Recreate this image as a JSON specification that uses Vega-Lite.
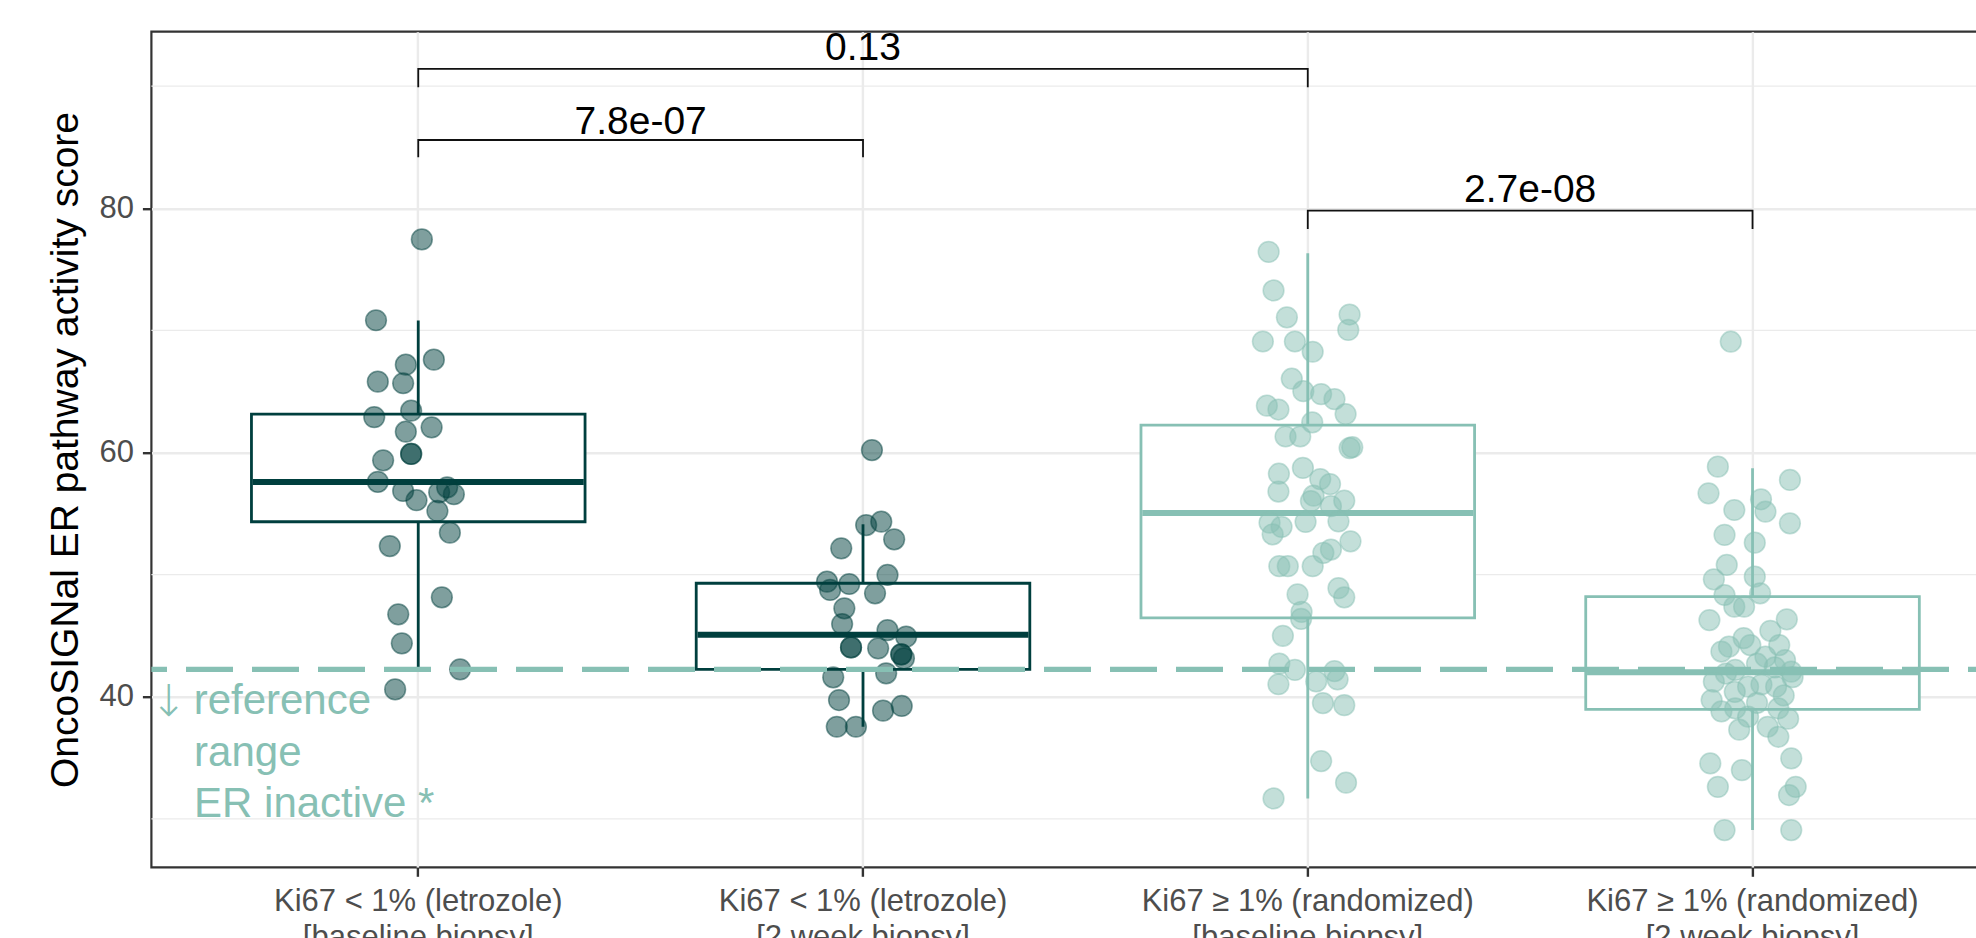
{
  "$schema": "https://vega.github.io/schema/vega-lite/v6.json",
  "autosize": {"type": "none"},
  "width": 1868,
  "height": 835.6,
  "padding": {"left": 151.4, "top": 31.7, "right": 0, "bottom": 70.7},
  "background": "white",
  "datasets": {
    "pts": [
      {"g":"L0","score":77.45,"jit":0.008},{"g":"L0","score":70.83,"jit":-0.095},{"g":"L0","score":67.6,"jit":0.035},{"g":"L0","score":67.19,"jit":-0.028},{"g":"L0","score":65.8,"jit":-0.091},{"g":"L0","score":65.67,"jit":-0.034},{"g":"L0","score":63.42,"jit":-0.016},{"g":"L0","score":62.9,"jit":-0.099},{"g":"L0","score":62.06,"jit":0.03},{"g":"L0","score":61.7,"jit":-0.028},{"g":"L0","score":59.88,"jit":-0.016},{"g":"L0","score":59.88,"jit":-0.016},{"g":"L0","score":59.36,"jit":-0.079},{"g":"L0","score":57.6,"jit":-0.091},{"g":"L0","score":56.85,"jit":-0.034},{"g":"L0","score":56.09,"jit":-0.004},{"g":"L0","score":56.74,"jit":0.047},{"g":"L0","score":57.15,"jit":0.065},{"g":"L0","score":56.58,"jit":0.08},{"g":"L0","score":55.21,"jit":0.043},{"g":"L0","score":53.43,"jit":0.071},{"g":"L0","score":52.34,"jit":-0.064},{"g":"L0","score":48.14,"jit":0.053},{"g":"L0","score":46.75,"jit":-0.045},{"g":"L0","score":44.37,"jit":-0.037},{"g":"L0","score":42.24,"jit":0.094},{"g":"L0","score":40.6,"jit":-0.052},
      {"g":"L2","score":60.2,"jit":0.02},{"g":"L2","score":54.06,"jit":0.007},{"g":"L2","score":54.33,"jit":0.041},{"g":"L2","score":52.89,"jit":0.07},{"g":"L2","score":52.15,"jit":-0.049},{"g":"L2","score":49.97,"jit":0.055},{"g":"L2","score":49.42,"jit":-0.081},{"g":"L2","score":49.23,"jit":-0.031},{"g":"L2","score":48.47,"jit":0.027},{"g":"L2","score":48.74,"jit":-0.074},{"g":"L2","score":47.24,"jit":-0.042},{"g":"L2","score":45.95,"jit":-0.047},{"g":"L2","score":45.46,"jit":0.055},{"g":"L2","score":44.92,"jit":0.097},{"g":"L2","score":44.04,"jit":-0.027},{"g":"L2","score":44.04,"jit":-0.027},{"g":"L2","score":43.96,"jit":0.034},{"g":"L2","score":43.47,"jit":0.086},{"g":"L2","score":43.47,"jit":0.086},{"g":"L2","score":43.14,"jit":0.092},{"g":"L2","score":41.92,"jit":0.052},{"g":"L2","score":41.59,"jit":-0.067},{"g":"L2","score":39.73,"jit":-0.054},{"g":"L2","score":38.86,"jit":0.045},{"g":"L2","score":39.24,"jit":0.087},{"g":"L2","score":37.54,"jit":-0.059},{"g":"L2","score":37.54,"jit":-0.016},
      {"g":"R0","score":76.43,"jit":-0.088},{"g":"R0","score":73.27,"jit":-0.077},{"g":"R0","score":71.07,"jit":-0.047},{"g":"R0","score":71.3,"jit":0.094},{"g":"R0","score":70.04,"jit":0.091},{"g":"R0","score":69.09,"jit":-0.101},{"g":"R0","score":69.09,"jit":-0.029},{"g":"R0","score":68.25,"jit":0.011},{"g":"R0","score":66.04,"jit":-0.036},{"g":"R0","score":65.02,"jit":-0.01},{"g":"R0","score":64.78,"jit":0.03},{"g":"R0","score":64.37,"jit":0.06},{"g":"R0","score":63.83,"jit":-0.092},{"g":"R0","score":63.52,"jit":-0.066},{"g":"R0","score":63.15,"jit":0.085},{"g":"R0","score":62.47,"jit":0.01},{"g":"R0","score":61.31,"jit":-0.05},{"g":"R0","score":61.31,"jit":-0.017},{"g":"R0","score":60.36,"jit":0.094},{"g":"R0","score":60.43,"jit":0.1},{"g":"R0","score":58.26,"jit":-0.065},{"g":"R0","score":58.74,"jit":-0.011},{"g":"R0","score":57.82,"jit":0.028},{"g":"R0","score":57.41,"jit":0.05},{"g":"R0","score":56.8,"jit":-0.066},{"g":"R0","score":56.46,"jit":0.013},{"g":"R0","score":56.02,"jit":0.007},{"g":"R0","score":55.61,"jit":0.052},{"g":"R0","score":56.05,"jit":0.082},{"g":"R0","score":54.25,"jit":-0.086},{"g":"R0","score":53.91,"jit":-0.059},{"g":"R0","score":53.3,"jit":-0.079},{"g":"R0","score":54.32,"jit":-0.005},{"g":"R0","score":54.36,"jit":0.069},{"g":"R0","score":52.73,"jit":0.096},{"g":"R0","score":52.05,"jit":0.052},{"g":"R0","score":51.78,"jit":0.035},{"g":"R0","score":50.69,"jit":-0.064},{"g":"R0","score":50.69,"jit":-0.045},{"g":"R0","score":50.69,"jit":0.011},{"g":"R0","score":48.89,"jit":0.069},{"g":"R0","score":48.14,"jit":0.082},{"g":"R0","score":48.38,"jit":-0.023},{"g":"R0","score":46.95,"jit":-0.014},{"g":"R0","score":46.38,"jit":-0.015},{"g":"R0","score":44.99,"jit":-0.056},{"g":"R0","score":42.71,"jit":-0.064},{"g":"R0","score":42.2,"jit":-0.029},{"g":"R0","score":41.02,"jit":-0.066},{"g":"R0","score":42.1,"jit":0.06},{"g":"R0","score":41.42,"jit":0.067},{"g":"R0","score":41.25,"jit":0.019},{"g":"R0","score":39.48,"jit":0.034},{"g":"R0","score":39.31,"jit":0.082},{"g":"R0","score":34.73,"jit":0.03},{"g":"R0","score":32.96,"jit":0.086},{"g":"R0","score":31.67,"jit":-0.077},
      {"g":"R2","score":58.84,"jit":-0.078},{"g":"R2","score":57.75,"jit":0.084},{"g":"R2","score":56.66,"jit":-0.099},{"g":"R2","score":56.17,"jit":0.019},{"g":"R2","score":55.15,"jit":0.029},{"g":"R2","score":55.29,"jit":-0.041},{"g":"R2","score":54.2,"jit":0.084},{"g":"R2","score":53.25,"jit":-0.063},{"g":"R2","score":52.61,"jit":0.005},{"g":"R2","score":50.79,"jit":-0.058},{"g":"R2","score":49.61,"jit":-0.087},{"g":"R2","score":49.83,"jit":0.005},{"g":"R2","score":48.33,"jit":-0.063},{"g":"R2","score":48.47,"jit":0.017},{"g":"R2","score":47.37,"jit":-0.041},{"g":"R2","score":47.37,"jit":-0.019},{"g":"R2","score":46.28,"jit":-0.097},{"g":"R2","score":46.34,"jit":0.077},{"g":"R2","score":44.1,"jit":-0.053},{"g":"R2","score":44.23,"jit":-0.005},{"g":"R2","score":44.23,"jit":0.06},{"g":"R2","score":43.28,"jit":0.029},{"g":"R2","score":43.0,"jit":0.073},{"g":"R2","score":42.19,"jit":-0.039},{"g":"R2","score":42.05,"jit":0.087},{"g":"R2","score":41.23,"jit":-0.087},{"g":"R2","score":40.82,"jit":-0.01},{"g":"R2","score":40.82,"jit":0.053},{"g":"R2","score":39.73,"jit":-0.092},{"g":"R2","score":39.04,"jit":-0.039},{"g":"R2","score":39.04,"jit":0.058},{"g":"R2","score":38.36,"jit":-0.01},{"g":"R2","score":37.54,"jit":0.034},{"g":"R2","score":36.72,"jit":0.058},{"g":"R2","score":34.95,"jit":0.087},{"g":"R2","score":34.54,"jit":-0.095},{"g":"R2","score":33.99,"jit":-0.024},{"g":"R2","score":32.62,"jit":-0.078},{"g":"R2","score":32.62,"jit":0.097},{"g":"R2","score":31.95,"jit":0.082},{"g":"R2","score":29.08,"jit":-0.063},{"g":"R2","score":29.08,"jit":0.087},{"g":"R2","score":69.07,"jit":-0.049},
      {"g":"R2","score":45.4,"jit":0.04},{"g":"R2","score":44.8,"jit":-0.02},{"g":"R2","score":43.7,"jit":-0.07},{"g":"R2","score":42.7,"jit":0.01},{"g":"R2","score":42.4,"jit":0.05},{"g":"R2","score":41.9,"jit":-0.06},{"g":"R2","score":41.6,"jit":0.09},{"g":"R2","score":41.0,"jit":0.02},{"g":"R2","score":40.4,"jit":-0.04},{"g":"R2","score":40.1,"jit":0.07},{"g":"R2","score":39.5,"jit":0.01},{"g":"R2","score":38.8,"jit":-0.07},{"g":"R2","score":38.2,"jit":0.08},{"g":"R2","score":37.3,"jit":-0.03}
    ],
    "box": [
      {"g":"L0","lower":42.24,"q1":54.33,"median":57.58,"q3":63.15,"upper":70.8},
      {"g":"L2","lower":37.54,"q1":42.24,"median":45.08,"q3":49.29,"upper":54.12},
      {"g":"R0","lower":31.67,"q1":46.45,"median":55.04,"q3":62.24,"upper":76.32},
      {"g":"R2","lower":29.08,"q1":38.97,"median":42.0,"q3":48.19,"upper":58.71}
    ],
    "minor": [{"v":30},{"v":50},{"v":70},{"v":90}],
    "ref": [{"v":42.24}],
    "brk": [
      {"id":1,"ord":1,"g":"L0","y":84.18},{"id":1,"ord":2,"g":"L0","y":85.59},{"id":1,"ord":3,"g":"L2","y":85.59},{"id":1,"ord":4,"g":"L2","y":84.18},
      {"id":2,"ord":1,"g":"L0","y":89.91},{"id":2,"ord":2,"g":"L0","y":91.41},{"id":2,"ord":3,"g":"R0","y":91.41},{"id":2,"ord":4,"g":"R0","y":89.91},
      {"id":3,"ord":1,"g":"R0","y":78.3},{"id":3,"ord":2,"g":"R0","y":79.8},{"id":3,"ord":3,"g":"R2","y":79.8},{"id":3,"ord":4,"g":"R2","y":78.3}
    ],
    "brktext": [
      {"g":"L0","jit":0.5,"y":86.12,"label":"7.8e-07"},
      {"g":"L2","jit":0,"y":92.15,"label":"0.13"},
      {"g":"R0","jit":0.5,"y":80.54,"label":"2.7e-08"}
    ],
    "arrow": [
      {"g":"L0","jit":-0.602,"y":38.4,"t":"↓"}
    ],
    "ann": [
      {"g":"L0","jit":-0.505,"y":38.58,"t":"reference"},
      {"g":"L0","jit":-0.504,"y":34.35,"t":"range"},
      {"g":"L0","jit":-0.504,"y":30.17,"t":"ER inactive *"}
    ]
  },
  "layer": [
    {
      "data": {"name": "minor"},
      "mark": {"type": "rule", "color": "#EBEBEB", "strokeWidth": 1.2},
      "encoding": {
        "y": {"field": "v", "type": "quantitative", "scale": {"domain": [26.03, 94.46], "nice": false, "zero": false}, "axis": {"values": [40, 60, 80]}, "title": "OncoSIGNal ER pathway activity score"}
      }
    },
    {
      "data": {"name": "box"},
      "mark": {"type": "rule", "strokeWidth": 2.8},
      "encoding": {
        "x": {"field": "g", "type": "nominal", "scale": {"domain": ["L0","L2","R0","R2"], "paddingInner": 0, "paddingOuter": 0.1}, "title": null, "axis": {"labelExpr": "datum.value == 'L0' ? ['Ki67 < 1% (letrozole)', '[baseline biopsy]'] : datum.value == 'L2' ? ['Ki67 < 1% (letrozole)', '[2 week biopsy]'] : datum.value == 'R0' ? ['Ki67 ≥ 1% (randomized)', '[baseline biopsy]'] : ['Ki67 ≥ 1% (randomized)', '[2 week biopsy]']"}},
        "y": {"field": "lower", "type": "quantitative", "scale": {"domain": [26.03, 94.46], "nice": false, "zero": false}, "axis": {"values": [40, 60, 80]}, "title": "OncoSIGNal ER pathway activity score"},
        "y2": {"field": "upper"},
        "stroke": {"field": "g", "type": "nominal", "scale": {"domain": ["L0","L2","R0","R2"], "range": ["#003F3E","#003F3E","#87C0B4","#87C0B4"]}, "legend": null}
      }
    },
    {
      "data": {"name": "box"},
      "mark": {"type": "bar", "fill": "white", "strokeWidth": 2.8, "width": 333.6},
      "encoding": {
        "x": {"field": "g", "type": "nominal", "scale": {"domain": ["L0","L2","R0","R2"], "paddingInner": 0, "paddingOuter": 0.1}, "title": null, "axis": {"labelExpr": "datum.value == 'L0' ? ['Ki67 < 1% (letrozole)', '[baseline biopsy]'] : datum.value == 'L2' ? ['Ki67 < 1% (letrozole)', '[2 week biopsy]'] : datum.value == 'R0' ? ['Ki67 ≥ 1% (randomized)', '[baseline biopsy]'] : ['Ki67 ≥ 1% (randomized)', '[2 week biopsy]']"}},
        "y": {"field": "q3", "type": "quantitative", "scale": {"domain": [26.03, 94.46], "nice": false, "zero": false}, "axis": {"values": [40, 60, 80]}, "title": "OncoSIGNal ER pathway activity score"},
        "y2": {"field": "q1"},
        "stroke": {"field": "g", "type": "nominal", "scale": {"domain": ["L0","L2","R0","R2"], "range": ["#003F3E","#003F3E","#87C0B4","#87C0B4"]}, "legend": null}
      }
    },
    {
      "data": {"name": "box"},
      "mark": {"type": "bar", "fill": "white", "strokeWidth": 6, "width": 331},
      "encoding": {
        "x": {"field": "g", "type": "nominal", "scale": {"domain": ["L0","L2","R0","R2"], "paddingInner": 0, "paddingOuter": 0.1}, "title": null, "axis": {"labelExpr": "datum.value == 'L0' ? ['Ki67 < 1% (letrozole)', '[baseline biopsy]'] : datum.value == 'L2' ? ['Ki67 < 1% (letrozole)', '[2 week biopsy]'] : datum.value == 'R0' ? ['Ki67 ≥ 1% (randomized)', '[baseline biopsy]'] : ['Ki67 ≥ 1% (randomized)', '[2 week biopsy]']"}},
        "y": {"field": "median", "type": "quantitative", "scale": {"domain": [26.03, 94.46], "nice": false, "zero": false}, "axis": {"values": [40, 60, 80]}, "title": "OncoSIGNal ER pathway activity score"},
        "y2": {"field": "median"},
        "stroke": {"field": "g", "type": "nominal", "scale": {"domain": ["L0","L2","R0","R2"], "range": ["#003F3E","#003F3E","#87C0B4","#87C0B4"]}, "legend": null}
      }
    },
    {
      "data": {"name": "pts"},
      "mark": {"type": "circle", "size": 430, "fillOpacity": 0.5, "strokeOpacity": 0.5, "strokeWidth": 1.5, "opacity": 1},
      "encoding": {
        "x": {"field": "g", "type": "nominal", "scale": {"domain": ["L0","L2","R0","R2"], "paddingInner": 0, "paddingOuter": 0.1}, "title": null, "axis": {"labelExpr": "datum.value == 'L0' ? ['Ki67 < 1% (letrozole)', '[baseline biopsy]'] : datum.value == 'L2' ? ['Ki67 < 1% (letrozole)', '[2 week biopsy]'] : datum.value == 'R0' ? ['Ki67 ≥ 1% (randomized)', '[baseline biopsy]'] : ['Ki67 ≥ 1% (randomized)', '[2 week biopsy]']"}},
        "xOffset": {"field": "jit", "type": "quantitative", "scale": {"domain": [-0.5, 0.5], "range": [0, 444.8], "nice": false, "zero": false}},
        "y": {"field": "score", "type": "quantitative", "scale": {"domain": [26.03, 94.46], "nice": false, "zero": false}, "axis": {"values": [40, 60, 80]}, "title": "OncoSIGNal ER pathway activity score"},
        "fill": {"field": "g", "type": "nominal", "scale": {"domain": ["L0","L2","R0","R2"], "range": ["#003F3E","#003F3E","#87C0B4","#87C0B4"]}, "legend": null},
        "stroke": {"field": "g", "type": "nominal", "scale": {"domain": ["L0","L2","R0","R2"], "range": ["#003F3E","#003F3E","#87C0B4","#87C0B4"]}, "legend": null}
      }
    },
    {
      "data": {"name": "ref"},
      "mark": {"type": "rule", "color": "#87C0B4", "strokeWidth": 5.3, "strokeDash": [47, 19], "strokeDashOffset": 61.6},
      "encoding": {
        "y": {"field": "v", "type": "quantitative", "scale": {"domain": [26.03, 94.46], "nice": false, "zero": false}, "axis": {"values": [40, 60, 80]}, "title": "OncoSIGNal ER pathway activity score"}
      }
    },
    {
      "data": {"name": "arrow"},
      "mark": {"type": "text", "align": "left", "baseline": "alphabetic", "fontSize": 44, "color": "#87C0B4", "font": "DejaVu Sans", "fontWeight": 300},
      "encoding": {
        "x": {"field": "g", "type": "nominal", "scale": {"domain": ["L0","L2","R0","R2"], "paddingInner": 0, "paddingOuter": 0.1}, "title": null, "axis": {"labelExpr": "datum.value == 'L0' ? ['Ki67 < 1% (letrozole)', '[baseline biopsy]'] : datum.value == 'L2' ? ['Ki67 < 1% (letrozole)', '[2 week biopsy]'] : datum.value == 'R0' ? ['Ki67 ≥ 1% (randomized)', '[baseline biopsy]'] : ['Ki67 ≥ 1% (randomized)', '[2 week biopsy]']"}},
        "xOffset": {"field": "jit", "type": "quantitative", "scale": {"domain": [-0.5, 0.5], "range": [0, 444.8], "nice": false, "zero": false}},
        "y": {"field": "y", "type": "quantitative", "scale": {"domain": [26.03, 94.46], "nice": false, "zero": false}, "axis": {"values": [40, 60, 80]}, "title": "OncoSIGNal ER pathway activity score"},
        "text": {"field": "t"}
      }
    },
    {
      "data": {"name": "ann"},
      "mark": {"type": "text", "align": "left", "baseline": "alphabetic", "fontSize": 42, "color": "#87C0B4", "font": "Liberation Sans"},
      "encoding": {
        "x": {"field": "g", "type": "nominal", "scale": {"domain": ["L0","L2","R0","R2"], "paddingInner": 0, "paddingOuter": 0.1}, "title": null, "axis": {"labelExpr": "datum.value == 'L0' ? ['Ki67 < 1% (letrozole)', '[baseline biopsy]'] : datum.value == 'L2' ? ['Ki67 < 1% (letrozole)', '[2 week biopsy]'] : datum.value == 'R0' ? ['Ki67 ≥ 1% (randomized)', '[baseline biopsy]'] : ['Ki67 ≥ 1% (randomized)', '[2 week biopsy]']"}},
        "xOffset": {"field": "jit", "type": "quantitative", "scale": {"domain": [-0.5, 0.5], "range": [0, 444.8], "nice": false, "zero": false}},
        "y": {"field": "y", "type": "quantitative", "scale": {"domain": [26.03, 94.46], "nice": false, "zero": false}, "axis": {"values": [40, 60, 80]}, "title": "OncoSIGNal ER pathway activity score"},
        "text": {"field": "t"}
      }
    },
    {
      "data": {"name": "brk"},
      "mark": {"type": "line", "color": "#111111", "strokeWidth": 1.8, "interpolate": "linear"},
      "encoding": {
        "x": {"field": "g", "type": "nominal", "scale": {"domain": ["L0","L2","R0","R2"], "paddingInner": 0, "paddingOuter": 0.1}, "title": null, "axis": {"labelExpr": "datum.value == 'L0' ? ['Ki67 < 1% (letrozole)', '[baseline biopsy]'] : datum.value == 'L2' ? ['Ki67 < 1% (letrozole)', '[2 week biopsy]'] : datum.value == 'R0' ? ['Ki67 ≥ 1% (randomized)', '[baseline biopsy]'] : ['Ki67 ≥ 1% (randomized)', '[2 week biopsy]']"}},
        "y": {"field": "y", "type": "quantitative", "scale": {"domain": [26.03, 94.46], "nice": false, "zero": false}, "axis": {"values": [40, 60, 80]}, "title": "OncoSIGNal ER pathway activity score"},
        "detail": {"field": "id", "type": "nominal"},
        "order": {"field": "ord", "type": "quantitative"}
      }
    },
    {
      "data": {"name": "brktext"},
      "mark": {"type": "text", "align": "center", "baseline": "alphabetic", "fontSize": 39, "color": "#000000", "font": "Liberation Sans"},
      "encoding": {
        "x": {"field": "g", "type": "nominal", "scale": {"domain": ["L0","L2","R0","R2"], "paddingInner": 0, "paddingOuter": 0.1}, "title": null, "axis": {"labelExpr": "datum.value == 'L0' ? ['Ki67 < 1% (letrozole)', '[baseline biopsy]'] : datum.value == 'L2' ? ['Ki67 < 1% (letrozole)', '[2 week biopsy]'] : datum.value == 'R0' ? ['Ki67 ≥ 1% (randomized)', '[baseline biopsy]'] : ['Ki67 ≥ 1% (randomized)', '[2 week biopsy]']"}},
        "xOffset": {"field": "jit", "type": "quantitative", "scale": {"domain": [-0.5, 0.5], "range": [0, 444.8], "nice": false, "zero": false}},
        "y": {"field": "y", "type": "quantitative", "scale": {"domain": [26.03, 94.46], "nice": false, "zero": false}, "axis": {"values": [40, 60, 80]}, "title": "OncoSIGNal ER pathway activity score"},
        "text": {"field": "label"}
      }
    }
  ],
  "config": {
    "font": "Liberation Sans",
    "view": {"stroke": "#333333", "strokeWidth": 2.2},
    "axis": {"domain": false, "grid": true, "gridColor": "#EBEBEB", "gridWidth": 2.4, "tickColor": "#333333", "tickWidth": 2.4, "tickSize": 9, "labelFontSize": 31, "labelColor": "#4D4D4D", "labelFont": "Liberation Sans", "titleFont": "Liberation Sans", "titleFontSize": 39, "titleFontWeight": "normal", "titleColor": "#000000"},
    "axisY": {"labelPadding": 9, "titlePadding": 13},
    "axisX": {"labelPadding": 10, "labelLineHeight": 36, "labelAngle": 0, "labelOverlap": false, "labelLimit": 0}
  }
}
